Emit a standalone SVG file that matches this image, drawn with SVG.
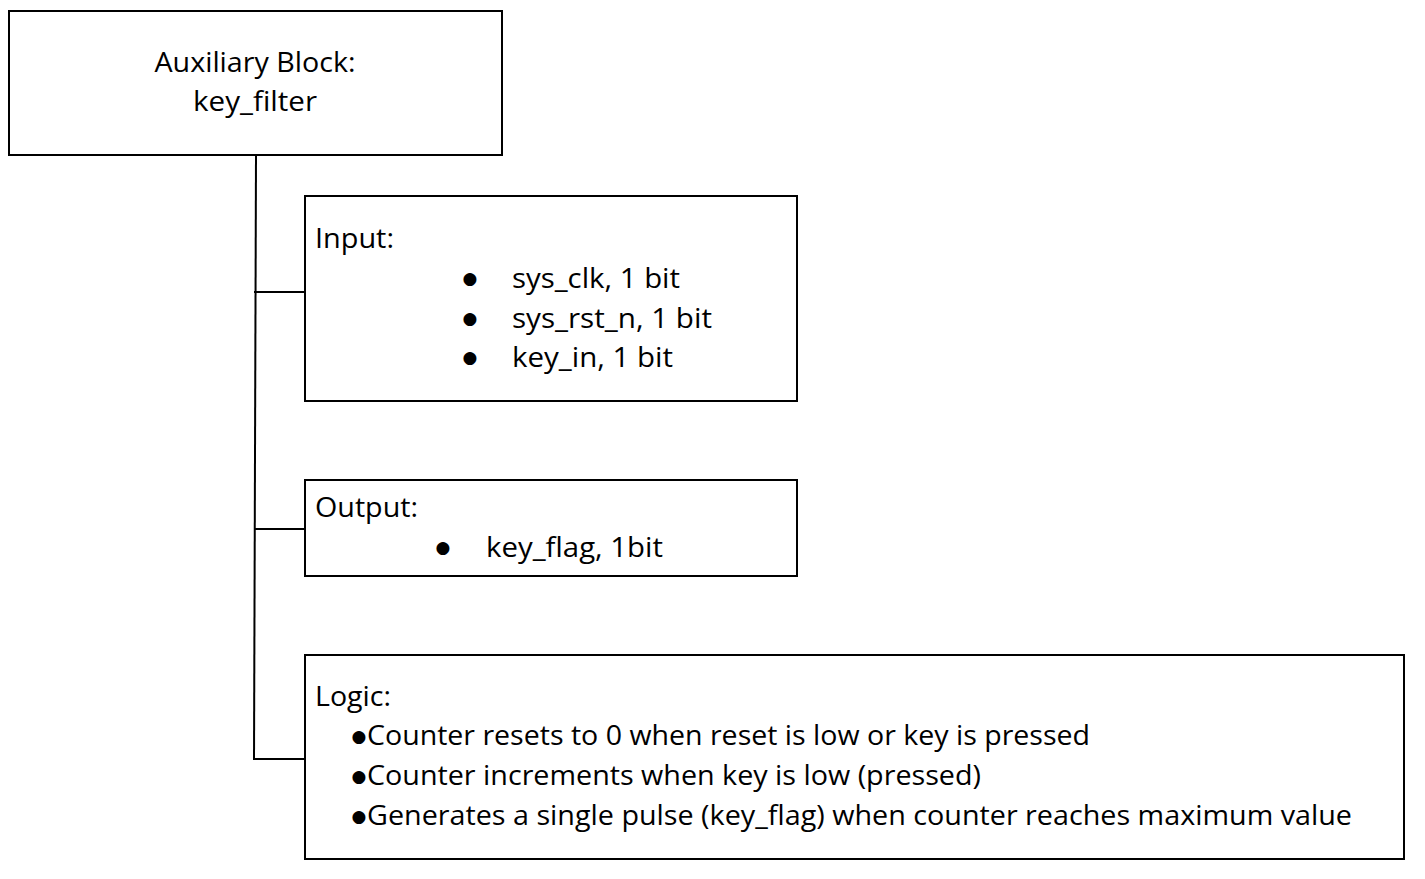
<svg xmlns="http://www.w3.org/2000/svg" width="1425" height="879" viewBox="0 0 1425 879">
<style>
.box{fill:#fff;stroke:#000;stroke-width:2}
.conn{fill:none;stroke:#000;stroke-width:2}
text{font-family:"Open Sans","Noto Sans","Liberation Sans",sans-serif;font-size:27px;fill:#000}
.c{text-anchor:middle}
.b{font-family:"DejaVu Sans",sans-serif;font-size:17px;text-anchor:middle}
</style>
<rect width="1425" height="879" fill="#fff"/>
<g id="connectors">
<polyline class="conn" points="256,155 254,759"/>
<line class="conn" x1="254" y1="292" x2="305" y2="292"/>
<line class="conn" x1="254" y1="529" x2="305" y2="529"/>
<line class="conn" x1="253" y1="759" x2="305" y2="759"/>
</g>
<g id="aux">
<rect class="box" x="9" y="11" width="493" height="144"/>
<text class="c" x="255" y="72" textLength="201" lengthAdjust="spacingAndGlyphs">Auxiliary Block:</text>
<text class="c" x="255" y="111" textLength="124" lengthAdjust="spacingAndGlyphs">key_filter</text>
</g>
<g id="input">
<rect class="box" x="305" y="196" width="492" height="205"/>
<text x="315" y="248" textLength="79" lengthAdjust="spacingAndGlyphs">Input:</text>
<text class="b" x="470" y="284">●</text>
<text class="b" x="470" y="324">●</text>
<text class="b" x="470" y="363">●</text>
<text x="512" y="288" textLength="168" lengthAdjust="spacingAndGlyphs">sys_clk, 1 bit</text>
<text x="512" y="328" textLength="200" lengthAdjust="spacingAndGlyphs">sys_rst_n, 1 bit</text>
<text x="512" y="367" textLength="161" lengthAdjust="spacingAndGlyphs">key_in, 1 bit</text>
</g>
<g id="output">
<rect class="box" x="305" y="480" width="492" height="96"/>
<text x="315" y="517" textLength="103" lengthAdjust="spacingAndGlyphs">Output:</text>
<text class="b" x="443" y="553">●</text>
<text x="486" y="557" textLength="177" lengthAdjust="spacingAndGlyphs">key_flag, 1bit</text>
</g>
<g id="logic">
<rect class="box" x="305" y="655" width="1099" height="204"/>
<text x="315" y="706" textLength="76" lengthAdjust="spacingAndGlyphs">Logic:</text>
<text class="b" x="359" y="742">●</text>
<text class="b" x="359" y="782">●</text>
<text class="b" x="359" y="822">●</text>
<text x="367" y="745" textLength="723" lengthAdjust="spacingAndGlyphs">Counter resets to 0 when reset is low or key is pressed</text>
<text x="367" y="785" textLength="614" lengthAdjust="spacingAndGlyphs">Counter increments when key is low (pressed)</text>
<text x="367" y="825" textLength="985" lengthAdjust="spacingAndGlyphs">Generates a single pulse (key_flag) when counter reaches maximum value</text>
</g>
</svg>
